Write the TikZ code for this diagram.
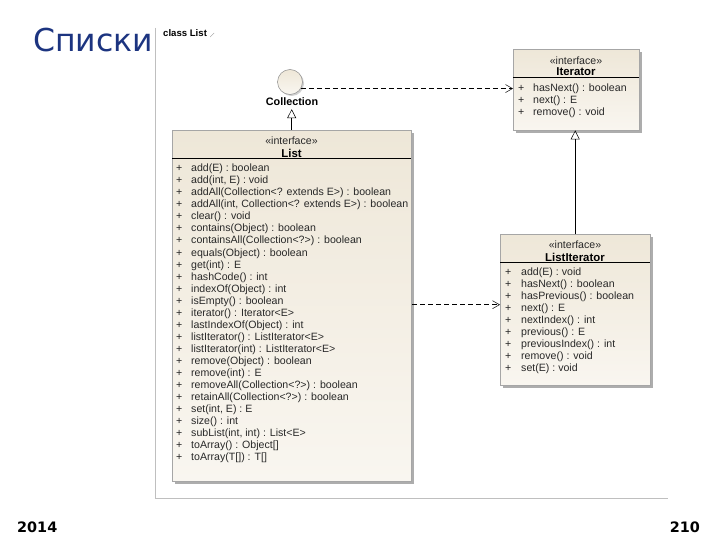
\documentclass[tikz,border=0pt]{standalone}
\usepackage{fontspec}
\setmainfont{Liberation Sans}
\newfontfamily\dejavu{DejaVu Sans}
\usetikzlibrary{arrows.meta,shadows,calc}
\definecolor{titleblue}{RGB}{28,52,128}
\definecolor{boxtop}{RGB}{238,231,216}
\definecolor{boxbot}{RGB}{249,246,240}
\definecolor{txt}{RGB}{40,40,40}
\tikzset{
  classbox/.style={draw=black!35, line width=0.4pt, top color=boxtop, bottom color=boxbot,
    inner sep=0pt, anchor=north west,
    drop shadow={shadow xshift=2.5pt, shadow yshift=-2.5pt, fill=black!40, opacity=0.8}},
  meth/.style={font=\fontsize{10.6}{12}\selectfont, text=txt, inner sep=0pt, anchor=west,
    text height=7.5pt, text depth=2pt},
  stereo/.style={font=\fontsize{10.6}{12}\selectfont, text=txt, inner sep=0pt},
  cname/.style={font=\bfseries\fontsize{11.4}{12}\selectfont, text=black, inner sep=0pt},
  sepline/.style={line width=0.7pt, black},
  dep/.style={line width=0.6pt, dash pattern=on 5pt off 3pt,
    -{Straight Barb[length=7pt, width=8pt, line width=0.5pt]}},
  gen/.style={line width=0.8pt, -{Triangle[open, length=9pt, width=9pt, line width=0.5pt]}},
}
\begin{document}
\begin{tikzpicture}[x=1pt, y=-1pt]
\useasboundingbox (0,0) rectangle (720,540);
\fill[white] (0,0) rectangle (720,540);

% title
\node[anchor=base west, font=\dejavu\fontsize{31.5}{32}\selectfont, text=titleblue, inner sep=0pt] (title) at (33,52) {Списки};

% frame
\draw[black!25, line width=0.6pt] (155,28) -- (155,498) -- (668,498);
\node[anchor=west, font=\bfseries\fontsize{9.6}{11}\selectfont, inner sep=0pt] (frame) at (163,33) {class List};
\draw[black!40, line width=0.4pt] ($(frame.east)+(3,4)$) -- ($(frame.east)+(7,0)$);

% Collection lollipop
\node[circle, draw=black!45, line width=0.5pt, top color=boxtop, bottom color=boxbot, minimum size=25pt, inner sep=0pt,
  drop shadow={shadow xshift=1.5pt, shadow yshift=-1.5pt, fill=black!30, opacity=0.6}] (coll) at (290,82) {};
\node[cname, font=\bfseries\fontsize{10.8}{12}\selectfont] (colllbl) at (292,102) {Collection};

% Iterator
\node[classbox, minimum width=126pt, minimum height=81pt] (iter) at (513,49) {};
\node[stereo] (iterst) at (576,60.5) {«interface»};
\node[cname] (itername) at (576,72) {Iterator};
\draw[sepline] ($(iter.north west)+(0,28)$) coordinate (isw) -- ($(iter.north east)+(0,28)$) coordinate (ise);
\foreach \m [count=\i from 0] in {{hasNext() : boolean},{next() : E},{remove() : void}}{
  \node[meth] (ip\i) at (518,{89+11.8*\i}) {+};
  \node[meth] (im\i) at (533,{89+11.8*\i}) {\m};
}

% List
\node[classbox, minimum width=239pt, minimum height=351pt] (list) at (172,130) {};
\node[stereo] (listst) at (291.5,141) {«interface»};
\node[cname] (listname) at (291.5,153) {List};
\draw[sepline] ($(list.north west)+(0,28.3)$) coordinate (lsw) -- ($(list.north east)+(0,28.3)$) coordinate (lse);
\foreach \m [count=\i from 0] in {
  {add(E) : boolean},
  {add(int, E) : void},
  {addAll(Collection<? extends E>) : boolean},
  {addAll(int, Collection<? extends E>) : boolean},
  {clear() : void},
  {contains(Object) : boolean},
  {containsAll(Collection<?>) : boolean},
  {equals(Object) : boolean},
  {get(int) : E},
  {hashCode() : int},
  {indexOf(Object) : int},
  {isEmpty() : boolean},
  {iterator() : Iterator<E>},
  {lastIndexOf(Object) : int},
  {listIterator() : ListIterator<E>},
  {listIterator(int) : ListIterator<E>},
  {remove(Object) : boolean},
  {remove(int) : E},
  {removeAll(Collection<?>) : boolean},
  {retainAll(Collection<?>) : boolean},
  {set(int, E) : E},
  {size() : int},
  {subList(int, int) : List<E>},
  {toArray() : Object[]},
  {toArray(T[]) : T[]}}{
  \node[meth] (lp\i) at (176,{169+12.04*\i}) {+};
  \node[meth] (lm\i) at (191,{169+12.04*\i}) {\m};
}

% ListIterator
\node[classbox, minimum width=150pt, minimum height=151pt] (liter) at (500,234) {};
\node[stereo] (literst) at (575,245) {«interface»};
\node[cname] (litername) at (575,257) {ListIterator};
\draw[sepline] ($(liter.north west)+(0,28)$) coordinate (lisw) -- ($(liter.north east)+(0,28)$) coordinate (lise);
\foreach \m [count=\i from 0] in {{add(E) : void},{hasNext() : boolean},{hasPrevious() : boolean},{next() : E},{nextIndex() : int},{previous() : E},{previousIndex() : int},{remove() : void},{set(E) : void}}{
  \node[meth] (lip\i) at (505,{273+12*\i}) {+};
  \node[meth] (lim\i) at (521,{273+12*\i}) {\m};
}

% connectors
\draw[dep] (coll.-31) -- (coll.-31 -| iter.west);
\draw[gen] (list.north) -- ($(list.north |- colllbl.south)+(0,3)$);
\draw[dep] ($(list.east)+(1,-1)$) -- ($(list.east -| liter.west)+(0,-1)$);
\draw[gen] (liter.north) -- (liter.north |- iter.south);

% footer
\node[anchor=west, font=\dejavu\bfseries\fontsize{14.4}{16}\selectfont, inner sep=0pt] (year) at (17,527) {2014};
\node[anchor=east, font=\dejavu\bfseries\fontsize{14.4}{16}\selectfont, inner sep=0pt] (page) at (700,527) {210};
\end{tikzpicture}
\end{document}
